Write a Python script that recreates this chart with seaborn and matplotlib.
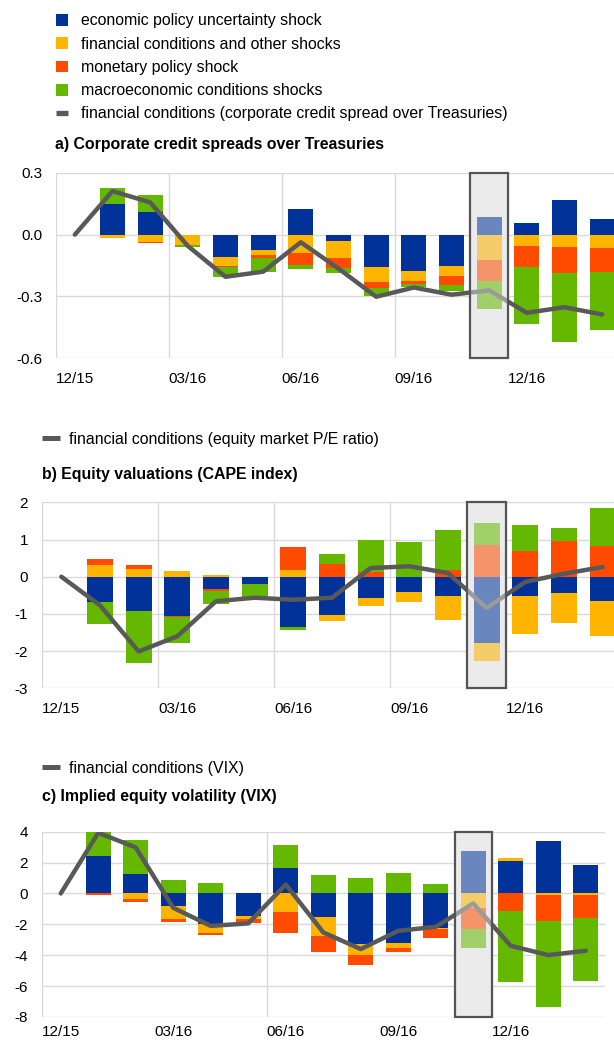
import numpy as np
import matplotlib
matplotlib.use("Agg")
import matplotlib.pyplot as plt
import seaborn as sns
from matplotlib.patches import Patch, Rectangle
from matplotlib.lines import Line2D

sns.set_theme(style="white")
plt.rcParams["font.family"] = ["Liberation Sans", "DejaVu Sans"]

# ---------------- data ----------------
months = ["12/15", "01/16", "02/16", "03/16", "04/16", "05/16", "06/16", "07/16",
          "08/16", "09/16", "10/16", "11/16", "12/16", "01/17", "02/17"]
tick_pos = [0, 3, 6, 9, 12]
tick_labels = ["12/15", "03/16", "06/16", "09/16", "12/16"]

series_names = ["economic policy uncertainty shock", "financial conditions and other shocks",
                "monetary policy shock", "macroeconomic conditions shocks"]

# a) corporate credit spreads
epu_a = [0, 0.150, 0.108, 0, -0.107, -0.074, 0.127, -0.029, -0.159, -0.177, -0.154, 0.085, 0.055, 0.167, 0.077]
fin_a = [0, -0.015, -0.035, -0.050, -0.045, -0.026, -0.091, -0.085, -0.069, -0.048, -0.048, -0.124, -0.056, -0.061, -0.064]
mon_a = [0, -0.003, -0.006, 0, -0.006, -0.013, -0.057, -0.050, -0.032, -0.016, -0.043, -0.101, -0.100, -0.125, -0.117]
mac_a = [0, 0.077, 0.086, -0.008, -0.046, -0.069, -0.018, -0.021, -0.040, -0.016, -0.027, -0.136, -0.277, -0.336, -0.284]
line_a = [0, 0.212, 0.157, -0.055, -0.205, -0.180, -0.037, -0.165, -0.302, -0.257, -0.292, -0.271, -0.380, -0.353, -0.388]

# b) equity valuations
epu_b = [0, -0.69, -0.915, -1.06, -0.34, -0.197, -1.354, -1.02, -0.565, -0.40, -0.53, -1.785, -0.53, -0.45, -0.64]
fin_b = [0, 0.305, 0.206, 0.143, 0.045, 0, 0.17, -0.17, -0.215, -0.28, -0.64, -0.485, -1.0, -0.79, -0.96]
mon_b = [0, 0.161, 0.117, -0.02, -0.046, 0, 0.62, 0.34, 0.135, 0, 0.18, 0.84, 0.68, 0.96, 0.83]
mac_b = [0, -0.575, -1.405, -0.70, -0.34, -0.368, -0.081, 0.26, 0.855, 0.92, 1.07, 0.595, 0.72, 0.36, 1.03]
line_b = [0, -0.77, -2.01, -1.60, -0.66, -0.565, -0.62, -0.565, 0.233, 0.28, 0.10, -0.84, -0.14, 0.08, 0.26]

# c) VIX
epu_c = [0, 2.44, 1.27, -0.82, -2.0, -1.45, 1.66, -1.55, -3.28, -3.24, -2.22, 2.78, 2.12, 3.37, 1.86]
fin_c = [0, 0, -0.37, -0.82, -0.53, -0.21, -1.2, -1.23, -0.71, -0.26, -0.11, -0.91, 0.17, -0.1, -0.13]
mon_c = [0, -0.09, -0.17, -0.19, -0.19, -0.24, -1.39, -1.04, -0.63, -0.30, -0.54, -1.40, -1.12, -1.67, -1.47]
mac_c = [0, 1.51, 2.18, 0.86, 0.67, 0, 1.45, 1.21, 0.99, 1.32, 0.63, -1.19, -4.62, -5.61, -4.05]
line_c = [0, 3.93, 2.98, -0.93, -2.10, -1.94, 0.58, -2.52, -3.60, -2.42, -2.16, -0.65, -3.39, -3.99, -3.71]

yt_a = [0.3, 0.0, -0.3, -0.6]; yl_a = ["0.3", "0.0", "-0.3", "-0.6"]
yt_b = [2, 1, 0, -1, -2, -3]; yl_b = ["2", "1", "0", "-1", "-2", "-3"]
yt_c = [4, 2, 0, -2, -4, -6, -8]; yl_c = ["4", "2", "0", "-2", "-4", "-6", "-8"]

highlight = 11

# ---------------- style ----------------
COLORS = ["#003299", "#ffb400", "#ff4b00", "#65b800"]
GRAY = "#595959"
GRID = "#dadada"
BOXBG = "#ebebeb"
FS = 11.4

W, H = 614, 1041
fig = plt.figure(figsize=(W / 100, H / 100), dpi=100)
fig.patch.set_facecolor("white")


def add_ax(l, t, r, b):
    return fig.add_axes([l / W, 1 - b / H, (r - l) / W, (b - t) / H])


def draw_panel(ax, comps, line, yt, yl, vgrid, xpad):
    x = np.arange(len(months))
    ymin, ymax = min(yt), max(yt)
    ax.set_xlim(-0.5, len(months) - 0.5)
    ax.set_ylim(ymin, ymax)
    for s in ax.spines.values():
        s.set_visible(False)
    for y in yt:
        ax.axhline(y, color=GRID, lw=1.0, zorder=0)
    for v in [-0.5] + vgrid:
        ax.axvline(v, color=GRID, lw=1.0, zorder=0)
    # box background
    ax.add_patch(Rectangle((highlight - 0.5, ymin), 1, ymax - ymin, facecolor=BOXBG,
                           edgecolor="none", zorder=0.5))
    pb = np.zeros(len(x))
    nb = np.zeros(len(x))
    for vals, col in zip(comps, COLORS):
        v = np.array(vals, dtype=float)
        p = np.where(v > 0, v, 0)
        n = np.where(v < 0, v, 0)
        ax.bar(x, p, bottom=pb, width=0.67, color=col, lw=0, zorder=2)
        ax.bar(x, n, bottom=nb, width=0.67, color=col, lw=0, zorder=2)
        pb += p
        nb += n
    sns.lineplot(x=x, y=line, ax=ax, color=GRAY, lw=3.2, zorder=3,
                 solid_capstyle="round", solid_joinstyle="round")
    # overlay of highlighted month
    ax.add_patch(Rectangle((highlight - 0.5, ymin), 1, ymax - ymin,
                           facecolor=(235 / 255, 235 / 255, 235 / 255, 0.455),
                           edgecolor="#555555", lw=1.6, zorder=5, clip_on=False))
    ax.set_yticks(yt)
    ax.set_yticklabels(yl)
    ax.set_xticks(tick_pos)
    ax.set_xticklabels(tick_labels)
    ax.tick_params(axis="both", length=0, labelsize=11, colors="black")
    ax.tick_params(axis="y", pad=10)
    ax.tick_params(axis="x", pad=xpad)
    ax.set_xlabel("")
    ax.set_ylabel("")
    ax.grid(False)
    ax.set_facecolor("none")


ax_a = add_ax(56, 173, 621, 358)
draw_panel(ax_a, [epu_a, fin_a, mon_a, mac_a], line_a, yt_a, yl_a, [2.5, 5.5, 8.5, 11.5], 10)
ax_b = add_ax(42, 502.3, 622, 688.3)
draw_panel(ax_b, [epu_b, fin_b, mon_b, mac_b], line_b, yt_b, yl_b, [2.5, 5.5, 8.5, 11.5], 10)
ax_c = add_ax(42, 831.7, 604.5, 1017)
draw_panel(ax_c, [epu_c, fin_c, mon_c, mac_c], line_c, yt_c, yl_c, [5.5, 11.5], 5.5)

# ---------------- legends ----------------
handles_a = [Patch(facecolor=c, edgecolor="none") for c in COLORS]
handles_a.append(Line2D([0], [0], color=GRAY, lw=3.8, solid_capstyle="butt"))
labels_a = series_names + ["financial conditions (corporate credit spread over Treasuries)"]
fig.legend(handles_a, labels_a, loc="upper left", bbox_to_anchor=(56 / W, 1 - 13.5 / H),
           bbox_transform=fig.transFigure, frameon=False, fontsize=FS,
           handlelength=0.78, handleheight=0.78, handletextpad=0.8, labelspacing=0.52,
           borderpad=0, borderaxespad=0, labelcolor="black")
fig.text(55 / W, 1 - 145 / H, "a) Corporate credit spreads over Treasuries",
         fontsize=FS, fontweight="bold", va="center", ha="left", color="black")

for ytop, label, ytitle, title in [
        (432, "financial conditions (equity market P/E ratio)", 474, "b) Equity valuations (CAPE index)"),
        (761, "financial conditions (VIX)", 796, "c) Implied equity volatility (VIX)")]:
    fig.legend([Line2D([0], [0], color=GRAY, lw=3.6, solid_capstyle="butt")], [label],
               loc="upper left", bbox_to_anchor=(42 / W, 1 - ytop / H),
               bbox_transform=fig.transFigure, frameon=False, fontsize=FS,
               handlelength=1.14, handletextpad=0.57, borderpad=0, borderaxespad=0,
               labelcolor="black")
    fig.text(42 / W, 1 - ytitle / H, title, fontsize=FS, fontweight="bold",
             va="center", ha="left", color="black")

fig.savefig("out.png", dpi=100, facecolor="white")
